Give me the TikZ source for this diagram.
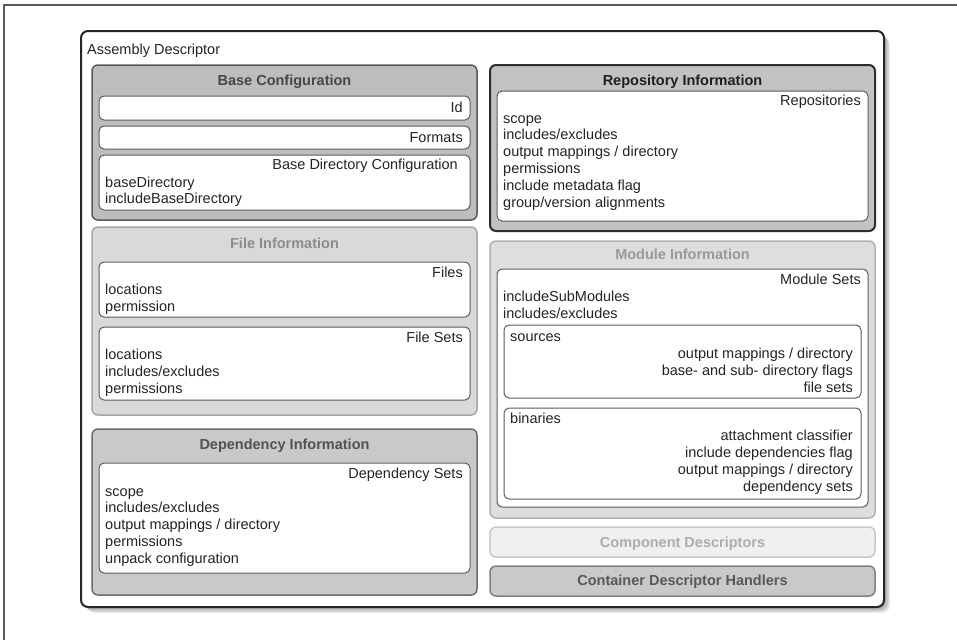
\documentclass[tikz,border=0pt]{standalone}
\usepackage{fontspec}
\setmainfont{Liberation Sans}

\definecolor{txt}{gray}{0.14}
\definecolor{inline}{gray}{0.36}
\definecolor{basefill}{gray}{0.74}
\definecolor{repofill}{gray}{0.76}
\definecolor{filefill}{gray}{0.85}
\definecolor{modfill}{gray}{0.87}
\definecolor{depfill}{gray}{0.79}
\definecolor{compfill}{gray}{0.94}
\definecolor{contfill}{gray}{0.79}

\begin{document}
\begin{tikzpicture}[x=1pt,y=-1pt,
  font=\fontsize{14.5}{17}\selectfont, text=txt,
  box/.style={rounded corners=6pt, line width=1.5pt},
  inbox/.style={draw=inline, fill=white, rounded corners=5pt, line width=1pt},
  title/.style={anchor=base, inner sep=0pt, font=\fontsize{14.5}{17}\selectfont\bfseries},
  lft/.style={anchor=base west, inner sep=0pt},
  rgt/.style={anchor=base east, inner sep=0pt}]
  \useasboundingbox (0,0) rectangle (957,640);
  % page frame
  \draw[black!65, line width=1.2pt] (4,640) -- (4,5) -- (957,5);
  % assembly descriptor, soft shadow first
  \foreach \s in {1,...,6}
    \fill[black, opacity=.07, rounded corners=8pt] (81+\s,31+\s) rectangle (884+\s,607+\s);
  \draw[draw=black!85, fill=white, rounded corners=7pt, line width=2pt]
    (81,31) rectangle (884,607);
  \node[lft] (assembly) at (87,54) {Assembly Descriptor};

  % base configuration
  \draw[box, draw=black!65, fill=basefill] (92,65) rectangle (477,220);
  \node[title, text=black!72] (base) at (284.5,85) {Base Configuration};
  \draw[inbox] (99,96) rectangle (470,120);
  \node[rgt] (id) at (463,112) {Id};
  \draw[inbox] (99,126) rectangle (470,149);
  \node[rgt] (formats) at (463,142) {Formats};
  \draw[inbox] (99,155) rectangle (470,210);
  \node[rgt] (basedir) at (458,169) {Base Directory Configuration};
  \node[lft] (basedir0) at (105,187) {baseDirectory};
  \node[lft] (basedir1) at (105,203) {includeBaseDirectory};

  % file information
  \draw[box, draw=black!35, fill=filefill] (92,227) rectangle (477,415);
  \node[title, text=black!45] (file) at (284.5,248) {File Information};
  \draw[inbox] (99,262) rectangle (470,317);
  \node[rgt] (files) at (463,277) {Files};
  \foreach \t [count=\i from 0] in {locations,permission}
    \node[lft] (files\i) at (105,294+17*\i) {\t};
  \draw[inbox] (99,327) rectangle (470,400);
  \node[rgt] (filesets) at (463,342) {File Sets};
  \foreach \t [count=\i from 0] in {locations,includes/excludes,permissions}
    \node[lft] (filesets\i) at (105,359+17*\i) {\t};

  % dependency information
  \draw[box, draw=black!58, fill=depfill] (92,429) rectangle (477,595);
  \node[title, text=black!68] (dep) at (284.5,449) {Dependency Information};
  \draw[inbox] (99,463) rectangle (470,573);
  \node[rgt] (depsets) at (463,478) {Dependency Sets};
  \foreach \t [count=\i from 0] in {scope,includes/excludes,output mappings / directory,permissions,unpack configuration}
    \node[lft] (depsets\i) at (105,496+16.75*\i) {\t};

  % repository information
  \draw[box, draw=black!82, fill=repofill, line width=2pt] (490,65) rectangle (875,231);
  \node[title, text=black!88] (repo) at (682.5,85) {Repository Information};
  \draw[inbox] (497,91) rectangle (868,221);
  \node[rgt] (repos) at (861,105) {Repositories};
  \foreach \t [count=\i from 0] in {scope,includes/excludes,output mappings / directory,permissions,include metadata flag,group/version alignments}
    \node[lft] (repos\i) at (503,123+16.8*\i) {\t};

  % module information
  \draw[box, draw=black!30, fill=modfill] (490,241) rectangle (875,518);
  \node[title, text=black!40] (module) at (682.5,259) {Module Information};
  \draw[inbox] (497,269) rectangle (868,507);
  \node[rgt] (modsets) at (861,284) {Module Sets};
  \node[lft] (modsets0) at (503,301) {includeSubModules};
  \node[lft] (modsets1) at (503,318) {includes/excludes};
  \draw[inbox] (504,325) rectangle (861,398);
  \node[lft] (sources) at (510,341) {sources};
  \foreach \t [count=\i from 0] in {output mappings / directory,base- and sub- directory flags,file sets}
    \node[rgt] (sources\i) at (853,358+17*\i) {\t};
  \draw[inbox] (504,408) rectangle (861,499);
  \node[lft] (binaries) at (510,423) {binaries};
  \foreach \t [count=\i from 0] in {attachment classifier,include dependencies flag,output mappings / directory,dependency sets}
    \node[rgt] (binaries\i) at (853,440+17*\i) {\t};

  % component descriptors / container descriptor handlers
  \draw[box, draw=black!22, fill=compfill] (490,527) rectangle (875,557);
  \node[title, text=black!32] (comp) at (682.5,547) {Component Descriptors};
  \draw[box, draw=black!50, fill=contfill] (490,566) rectangle (875,596);
  \node[title, text=black!65] (cont) at (682.5,585) {Container Descriptor Handlers};
\end{tikzpicture}
\end{document}
